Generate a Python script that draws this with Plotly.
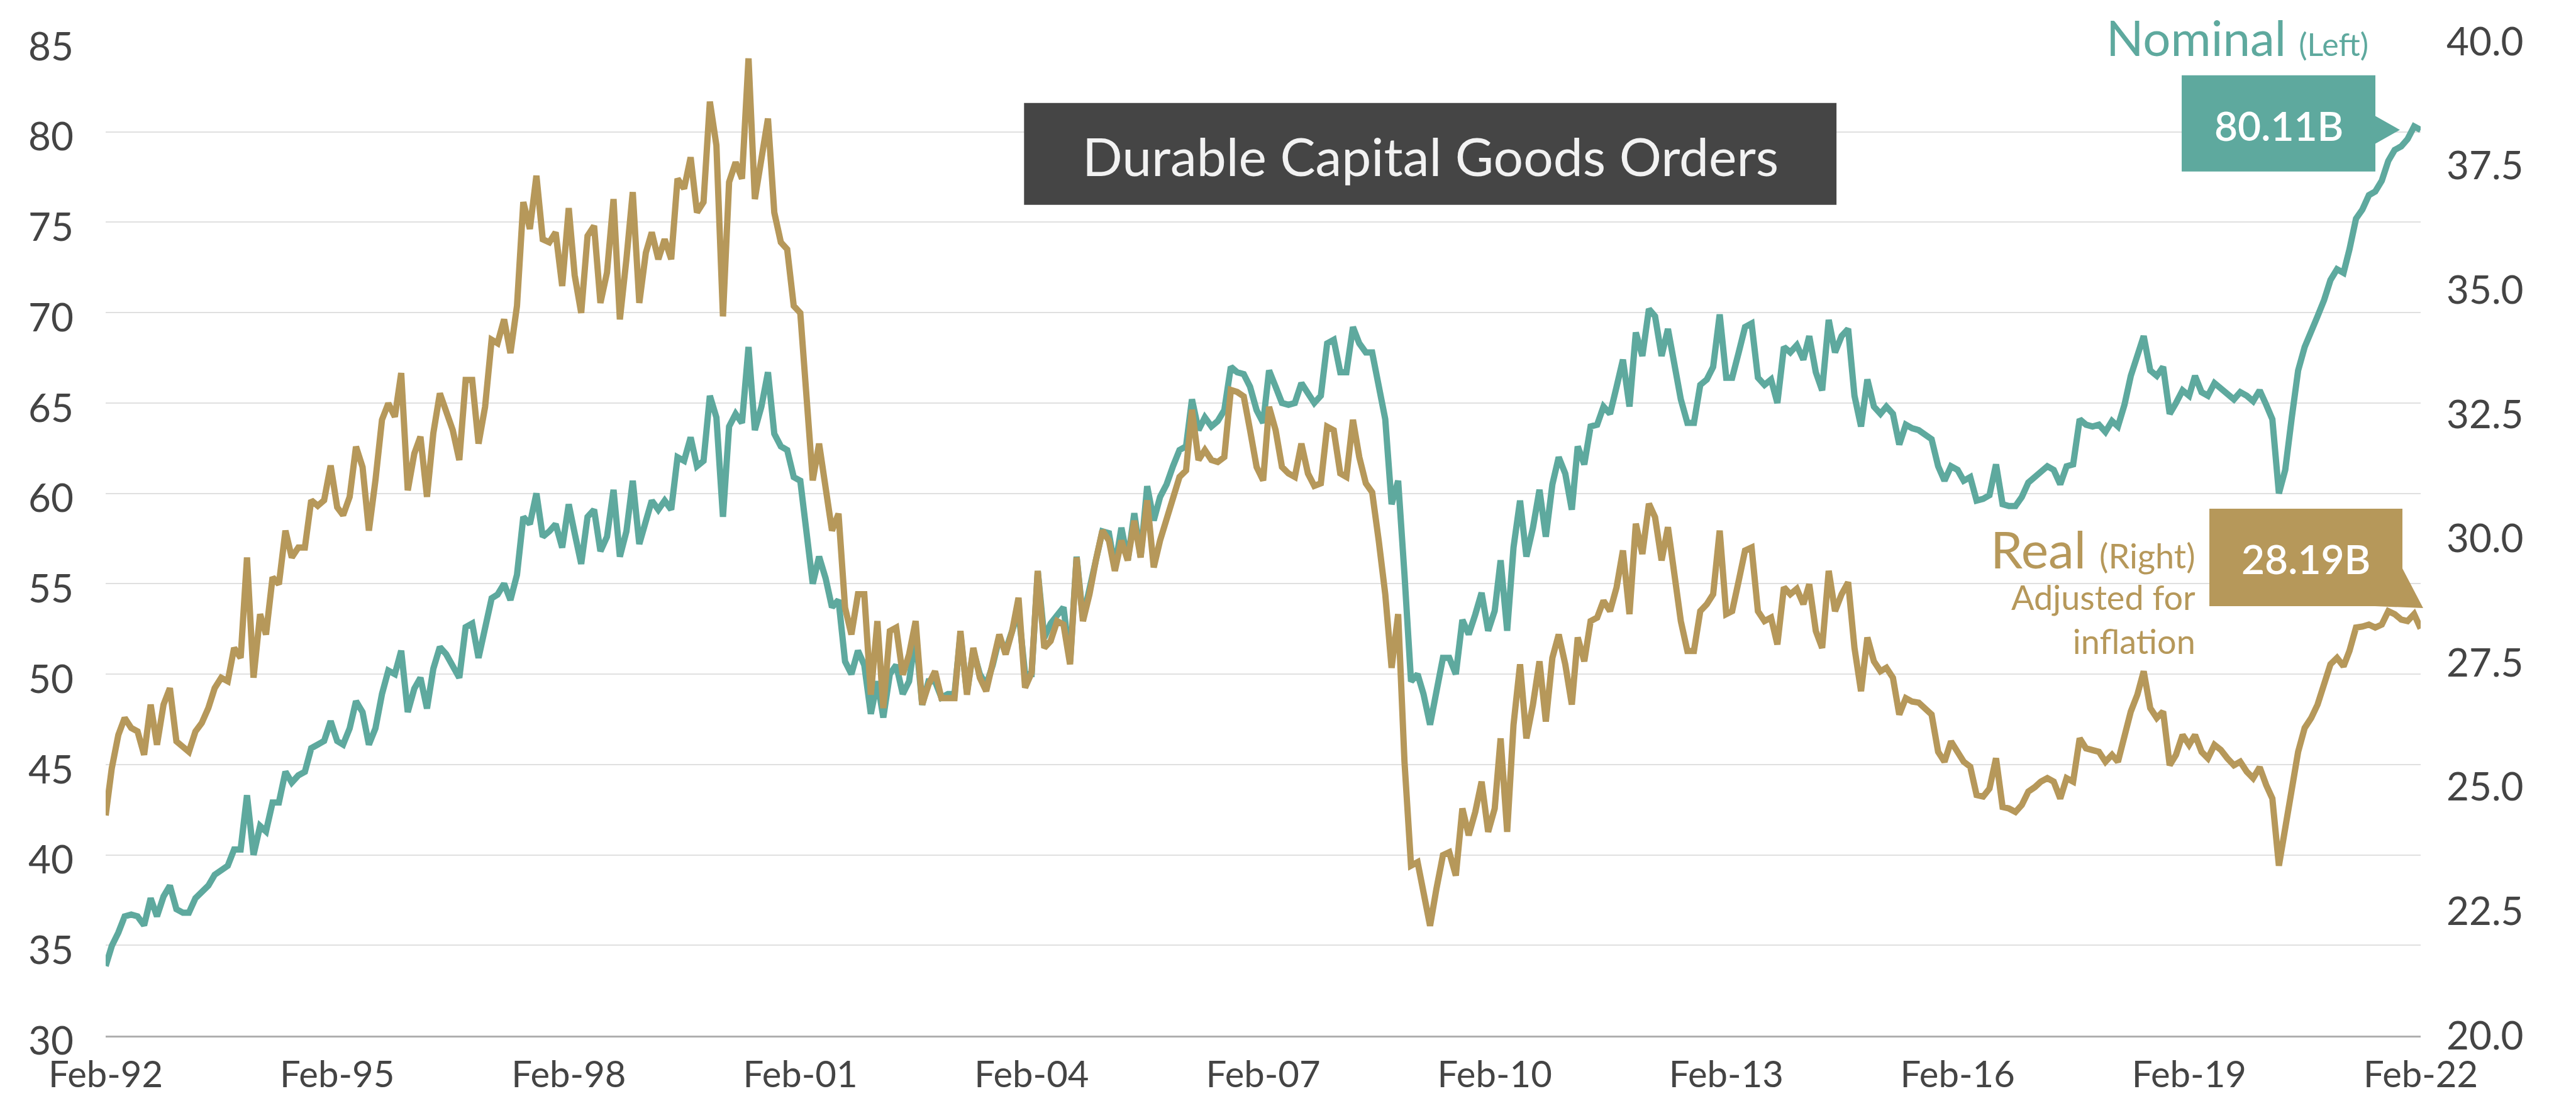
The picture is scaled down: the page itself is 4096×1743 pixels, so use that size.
import pandas as pd
import plotly.graph_objects as go

# ---------------- data ----------------
start_month = "1992-02-01"
n_months = 361

nominal = [
    33.85, 34.96, 35.7, 36.6, 36.7, 36.6, 36.1, 37.6, 36.6, 37.7, 38.3, 37.0, 36.8, 36.8, 37.6, 37.9,
    38.3, 38.9, 39.2, 39.4, 40.3, 40.3, 43.3, 40.0, 41.6, 41.3, 42.9, 42.9, 44.6, 44.0, 44.4, 44.6,
    45.9, 46.1, 46.3, 47.4, 46.3, 46.1, 47.0, 48.5, 47.9, 46.1, 47.0, 48.9, 50.2, 50.0, 51.3, 47.9,
    49.2, 49.8, 48.1, 50.3, 51.5, 51.1, 50.5, 49.8, 52.6, 52.8, 50.9, 52.4, 54.2, 54.4, 55.0, 54.1,
    55.5, 58.7, 58.3, 60.0, 57.6, 57.9, 58.3, 57.0, 59.4, 57.8, 56.1, 58.7, 59.1, 56.8, 57.6, 60.2,
    56.5, 57.9, 60.7, 57.2, 58.5, 59.6, 59.1, 59.6, 59.1, 62.0, 61.8, 63.1, 61.5, 61.8, 65.4, 64.2,
    58.7, 63.7, 64.4, 63.9, 68.1, 63.5, 64.8, 66.7, 63.3, 62.6, 62.4, 60.9, 60.7, 57.8, 55.0, 56.5,
    55.3, 53.7, 54.1, 50.7, 50.0, 51.3, 50.5, 47.8, 49.6, 47.6, 50.0, 50.5, 48.9, 49.6, 52.2, 48.3,
    49.6, 49.6, 48.7, 48.9, 48.9, 52.2, 49.0, 51.3, 50.0, 49.4, 50.5, 52.0, 51.3, 52.4, 53.5, 50.0,
    50.0, 55.7, 52.0, 52.8, 53.3, 53.7, 50.7, 56.5, 53.1, 54.8, 56.5, 57.9, 57.8, 55.9, 58.1, 56.3,
    58.9, 56.5, 60.4, 58.5, 59.8, 60.5, 61.5, 62.4, 62.6, 65.2, 63.5, 64.2, 63.7, 64.0, 64.6, 67.0,
    66.7, 66.6, 65.9, 64.6, 63.9, 66.8, 65.9, 65.0, 64.9, 65.0, 66.1, 65.5, 65.0, 65.4, 68.3, 68.5,
    66.7, 66.7, 69.2, 68.3, 67.8, 67.8, 66.1, 64.1, 59.4, 60.7, 55.5, 49.6, 50.0, 48.9, 47.2, 49.2,
    50.9, 50.9, 50.0, 53.0, 52.2, 53.3, 54.5, 52.4, 53.5, 56.3, 52.4, 57.0, 59.6, 56.5, 58.1, 60.2,
    57.6, 60.5, 62.0, 61.1, 59.1, 62.6, 61.6, 63.7, 63.8, 64.8, 64.4, 65.9, 67.4, 64.8, 68.9, 67.6,
    70.2, 69.8, 67.6, 69.1, 67.0, 65.2, 63.9, 63.9, 66.0, 66.3, 67.0, 69.9, 66.4, 66.4, 67.8, 69.2,
    69.4, 66.4, 66.0, 66.3, 65.0, 68.1, 67.8, 68.2, 67.4, 68.7, 66.7, 65.7, 69.6, 67.8, 68.7, 69.1,
    65.4, 63.7, 66.3, 64.8, 64.4, 64.8, 64.4, 62.7, 63.8, 63.6, 63.5, 63.2, 63.0, 61.5, 60.7, 61.5,
    61.3, 60.7, 60.9, 59.6, 59.7, 59.9, 61.6, 59.4, 59.3, 59.3, 59.8, 60.6, 60.9, 61.2, 61.5, 61.3,
    60.5, 61.5, 61.6, 64.1, 63.8, 63.7, 63.8, 63.4, 64.0, 63.7, 64.9, 66.5, 67.6, 68.7, 66.8, 66.5,
    67.0, 64.4, 65.0, 65.7, 65.4, 66.5, 65.6, 65.4, 66.1, 65.8, 65.5, 65.2, 65.6, 65.4, 65.1, 65.7,
    64.9, 64.1, 60.0, 61.3, 64.2, 66.8, 68.1, 68.9, 69.8, 70.7, 71.8, 72.4, 72.2, 73.5, 75.2, 75.7,
    76.5, 76.7, 77.3, 78.4, 79.0, 79.2, 79.6, 80.3, 80.11,
]

real = [
    24.43, 25.38, 26.05, 26.39, 26.19, 26.12, 25.65, 26.66, 25.85, 26.66, 26.99, 25.92, 25.81, 25.71, 26.12, 26.29,
    26.59, 26.99, 27.20, 27.13, 27.80, 27.60, 29.62, 27.20, 28.48, 28.07, 29.22, 29.08, 30.16, 29.62, 29.82, 29.82,
    30.77, 30.66, 30.77, 31.47, 30.63, 30.47, 30.84, 31.85, 31.44, 30.16, 31.17, 32.39, 32.72, 32.45, 33.33, 30.97,
    31.71, 32.05, 30.84, 32.12, 32.92, 32.59, 32.18, 31.58, 33.19, 33.19, 31.91, 32.65, 34.00, 33.93, 34.41, 33.73,
    34.68, 36.77, 36.23, 37.30, 36.02, 35.96, 36.16, 35.08, 36.65, 35.30, 34.54, 36.09, 36.29, 34.74, 35.35, 36.83,
    34.41, 35.62, 36.97, 34.74, 35.75, 36.16, 35.62, 36.02, 35.62, 37.24, 37.04, 37.67, 36.56, 36.77, 38.79, 37.91,
    34.47, 37.17, 37.57, 37.24, 39.66, 36.83, 37.57, 38.45, 36.56, 35.96, 35.82, 34.68, 34.54, 32.79, 31.17, 31.91,
    31.11, 30.16, 30.50, 28.61, 28.07, 28.88, 28.88, 26.86, 28.34, 26.59, 28.14, 28.21, 27.26, 27.67, 28.34, 26.66,
    27.06, 27.33, 26.79, 26.79, 26.79, 28.14, 26.86, 27.80, 27.20, 26.93, 27.47, 28.07, 27.67, 28.14, 28.81, 27.00,
    27.30, 29.35, 27.80, 27.94, 28.34, 28.27, 27.47, 29.62, 28.34, 28.88, 29.56, 30.16, 29.96, 29.35, 29.96, 29.56,
    30.36, 29.62, 30.77, 29.42, 29.96, 30.43, 30.84, 31.24, 31.37, 32.59, 31.58, 31.78, 31.58, 31.54, 31.64, 32.99,
    32.95, 32.86, 32.18, 31.44, 31.17, 32.65, 32.18, 31.44, 31.31, 31.24, 31.91, 31.31, 31.06, 31.11, 32.25, 32.18,
    31.31, 31.24, 32.39, 31.64, 31.11, 30.93, 29.96, 28.88, 27.40, 28.48, 25.51, 23.42, 23.49, 22.95, 22.21, 22.95,
    23.63, 23.69, 23.22, 24.57, 24.03, 24.50, 25.11, 24.10, 24.57, 25.98, 24.10, 26.25, 27.47, 25.98, 26.66, 27.53,
    26.32, 27.60, 28.07, 27.47, 26.66, 28.01, 27.53, 28.34, 28.41, 28.75, 28.54, 29.02, 29.76, 28.48, 30.30, 29.69,
    30.70, 30.43, 29.56, 30.23, 29.15, 28.34, 27.74, 27.74, 28.54, 28.68, 28.88, 30.16, 28.48, 28.54, 29.15, 29.76,
    29.82, 28.54, 28.34, 28.41, 27.87, 29.02, 28.88, 28.99, 28.68, 29.08, 28.14, 27.80, 29.35, 28.54, 28.88, 29.12,
    27.80, 26.93, 28.01, 27.53, 27.33, 27.40, 27.20, 26.46, 26.79, 26.72, 26.70, 26.59, 26.46, 25.71, 25.51, 25.92,
    25.71, 25.51, 25.41, 24.84, 24.81, 24.97, 25.58, 24.60, 24.57, 24.50, 24.64, 24.91, 25.00, 25.11, 25.18, 25.11,
    24.77, 25.18, 25.11, 25.98, 25.78, 25.75, 25.71, 25.51, 25.65, 25.51, 25.98, 26.52, 26.86, 27.33, 26.59, 26.39,
    26.52, 25.44, 25.65, 26.05, 25.85, 26.05, 25.71, 25.58, 25.85, 25.75, 25.58, 25.44, 25.51, 25.31, 25.18, 25.40,
    25.04, 24.77, 23.42, 24.16, 25.11, 25.71, 26.19, 26.39, 26.66, 27.06, 27.47, 27.60, 27.43, 27.74, 28.21, 28.23,
    28.27, 28.21, 28.27, 28.54, 28.48, 28.37, 28.34, 28.48, 28.19,
]

tick_dates = ["1992-02-01", "1995-02-01", "1998-02-01", "2001-02-01", "2004-02-01", "2007-02-01",
              "2010-02-01", "2013-02-01", "2016-02-01", "2019-02-01", "2022-02-01"]
tick_labels = ["Feb-92", "Feb-95", "Feb-98", "Feb-01", "Feb-04", "Feb-07",
               "Feb-10", "Feb-13", "Feb-16", "Feb-19", "Feb-22"]

title_text = "Durable Capital Goods Orders"
nominal_label = "80.11B"
real_label = "28.19B"

# ---------------- style ----------------
W, H = 4096, 1743
L, R, T, B = 159.5, 3841.0, 58.3, 1638.8
TEAL = "#5EA99E"
GOLD = "#B6985A"
DARK = "#454545"
TXT = "#444444"
FONT = "Lato"
TICK_SIZE = 62
XTICK_SIZE = 58

left_range = [30, 85]
right_range = [20, 40]

dates = pd.date_range(start_month, periods=n_months, freq="MS")


def px(x):
    return (x - L) / (R - L)


def py(y):
    return (B - y) / (B - T)


def py_left(v):
    return (v - left_range[0]) / (left_range[1] - left_range[0])


fig = go.Figure()
fig.add_trace(go.Scatter(x=dates, y=nominal, mode="lines", name="Nominal",
                         line=dict(color=TEAL, width=10), yaxis="y"))
fig.add_trace(go.Scatter(x=dates, y=real, mode="lines", name="Real",
                         line=dict(color=GOLD, width=10), yaxis="y2"))

fig.update_layout(
    width=W, height=H,
    margin=dict(l=L, r=W - R, t=T, b=H - B, pad=0, autoexpand=False),
    paper_bgcolor="white", plot_bgcolor="white",
    showlegend=False,
    font=dict(family=FONT, color=TXT, size=TICK_SIZE),
    xaxis=dict(
        type="date", range=[dates[0], dates[-1]], automargin=False,
        tickvals=tick_dates, ticktext=tick_labels,
        showgrid=False, zeroline=False,
        showline=True, linecolor="#AFAFAF", linewidth=3,
        ticks="", ticklabelstandoff=9,
        tickfont=dict(size=XTICK_SIZE, color=TXT, family=FONT),
    ),
    yaxis=dict(
        range=left_range, dtick=5, tick0=30, automargin=False,
        showgrid=True, gridcolor="#E0E0E0", gridwidth=2,
        zeroline=False, showline=False, ticks="",
        ticklabelstandoff=50, ticklabelshift=8,
        tickfont=dict(size=TICK_SIZE, color=TXT, family=FONT),
    ),
    yaxis2=dict(
        range=right_range, dtick=2.5, tick0=20, tickformat=".1f", automargin=False,
        overlaying="y", side="right",
        showgrid=False, zeroline=False, showline=False, ticks="",
        ticklabelstandoff=40,
        tickfont=dict(size=TICK_SIZE, color=TXT, family=FONT),
    ),
)

shapes = []
# white masks that break gridlines behind the series labels
shapes.append(dict(type="rect", xref="paper", yref="paper",
                   x0=px(3268), x1=px(3778), y0=py(75), y1=py(40),
                   fillcolor="white", line=dict(width=0), layer="between"))
shapes.append(dict(type="rect", xref="paper", yref="paper",
                   x0=px(3080), x1=px(3505), y0=py(1035), y1=py(835),
                   fillcolor="white", line=dict(width=0), layer="between"))
# title box
shapes.append(dict(type="rect", xref="paper", yref="paper",
                   x0=px(1620), x1=px(2912), y0=py(318), y1=py(156),
                   fillcolor=DARK, line=dict(width=0), layer="above"))

# nominal value box with arrow pointing at last value
ny = py_left(nominal[-1])
nb_l, nb_r, nb_t, nb_b = px(3461), px(3769), py(112), py(265)
arrow_half = (py(174) - py(218)) / 2
path_n = (f"M {nb_l},{nb_t} L {nb_r},{nb_t} L {nb_r},{ny + arrow_half} "
          f"L {px(3808)},{ny} L {nb_r},{ny - arrow_half} L {nb_r},{nb_b} L {nb_l},{nb_b} Z")
shapes.append(dict(type="path", xref="paper", yref="paper", path=path_n,
                   fillcolor=TEAL, line=dict(width=0), layer="above"))

# real value box with pointer
rb_l, rb_r, rb_t, rb_b = px(3505), px(3812), py(801), py(956)
path_r = (f"M {rb_l},{rb_t} L {rb_r},{rb_t} L {rb_r},{py(896)} "
          f"L {px(3845)},{py(959)} L {px(3768)},{rb_b} L {rb_l},{rb_b} Z")
shapes.append(dict(type="path", xref="paper", yref="paper", path=path_r,
                   fillcolor=GOLD, line=dict(width=0), layer="above"))

fig.update_layout(shapes=shapes)

ann = []
ann.append(dict(text=title_text, xref="paper", yref="paper",
                x=px(2266), y=py(240), xanchor="center", yanchor="middle",
                showarrow=False, font=dict(size=84, color="#F2F2F2", family=FONT)))
ann.append(dict(text=nominal_label, xref="paper", yref="paper",
                x=px(3615), y=py(192), xanchor="center", yanchor="middle",
                showarrow=False, font=dict(size=64, color="white", family=FONT, weight=600)))
ann.append(dict(text=real_label, xref="paper", yref="paper",
                x=px(3658), y=py(881), xanchor="center", yanchor="middle",
                showarrow=False, font=dict(size=64, color="white", family=FONT, weight=600)))
ann.append(dict(text="Nominal <span style='font-size:50px'>(Left)</span>",
                xref="paper", yref="paper", x=px(3760), y=py(51),
                xanchor="right", yanchor="middle", showarrow=False,
                font=dict(size=78, color=TEAL, family=FONT)))
ann.append(dict(text="Real <span style='font-size:54px'>(Right)</span>",
                xref="paper", yref="paper", x=px(3485), y=py(864),
                xanchor="right", yanchor="middle", showarrow=False,
                font=dict(size=82, color=GOLD, family=FONT)))
ann.append(dict(text="Adjusted for<br>inflation",
                xref="paper", yref="paper", x=px(3485), y=py(977),
                xanchor="right", yanchor="middle", align="right", showarrow=False,
                font=dict(size=54, color=GOLD, family=FONT)))
fig.update_layout(annotations=ann)

fig.write_html("out.html")
